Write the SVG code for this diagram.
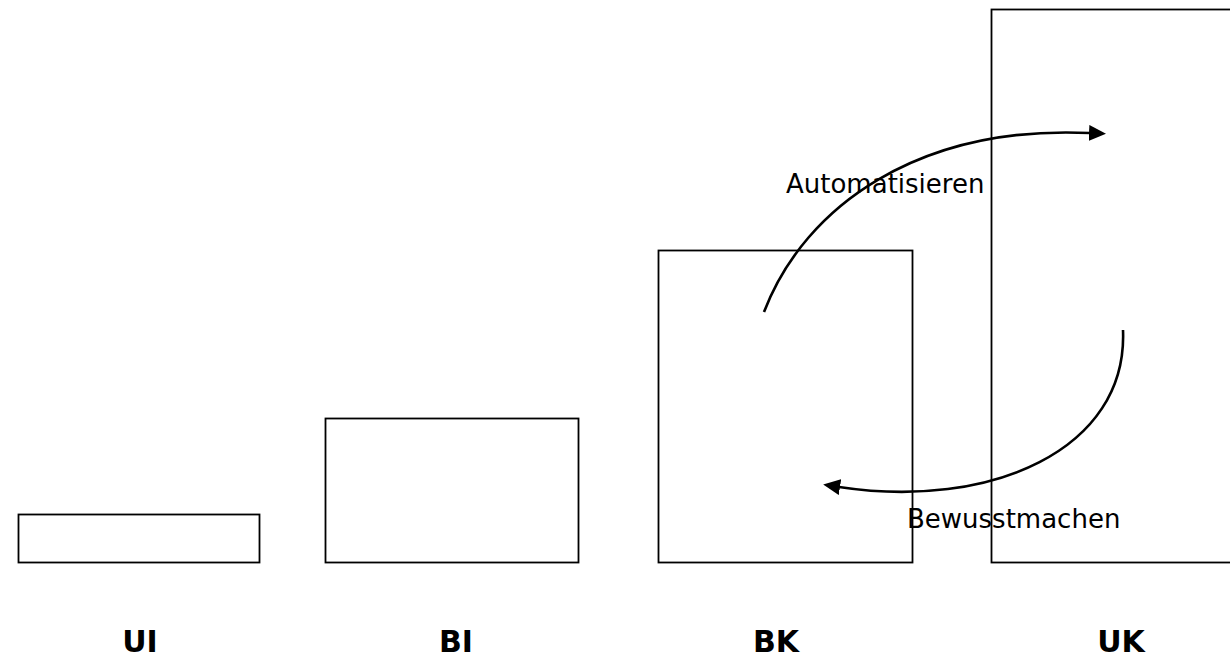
<svg xmlns="http://www.w3.org/2000/svg" width="1230" height="657" viewBox="0 0 1230 657">
<style>
.box{fill:none;stroke:#000;stroke-width:1.8}
.arc{fill:none;stroke:#000;stroke-width:2.6}
.lbl{font-family:"DejaVu Sans",Verdana,sans-serif;font-size:26px;fill:#000}
.name{font-family:"DejaVu Sans",Verdana,sans-serif;font-size:30px;font-weight:bold;fill:#000;text-anchor:middle}
</style>
<defs>
<marker id="ah" markerUnits="userSpaceOnUse" markerWidth="20" markerHeight="18" refX="1" refY="8" orient="auto">
<path d="M0,0 L17,8 L0,16 z" fill="#000"/>
</marker>
</defs>
<rect width="1230" height="657" fill="#fff"/>
<g id="UI">
<rect class="box" x="18.5" y="514.5" width="241" height="48"/>
<text class="name" x="140" y="652">UI</text>
</g>
<g id="BI">
<rect class="box" x="325.5" y="418.5" width="253" height="144"/>
<text class="name" x="456" y="652">BI</text>
</g>
<g id="BK">
<rect class="box" x="658.5" y="250.5" width="254" height="312"/>
<text class="name" x="776" y="652">BK</text>
</g>
<g id="UK">
<rect class="box" x="991.5" y="9.5" width="245" height="553"/>
<text class="name" x="1121" y="652">UK</text>
</g>
<g id="connectors">
<path class="arc" d="M764,312 C805,205 920,125 1090,133" marker-end="url(#ah)"/>
<path class="arc" d="M1123,330 C1128,450 990,510 839,487" marker-end="url(#ah)"/>
<text class="lbl" x="786" y="193">Automatisieren</text>
<text class="lbl" x="907" y="528">Bewusstmachen</text>
</g>
</svg>
